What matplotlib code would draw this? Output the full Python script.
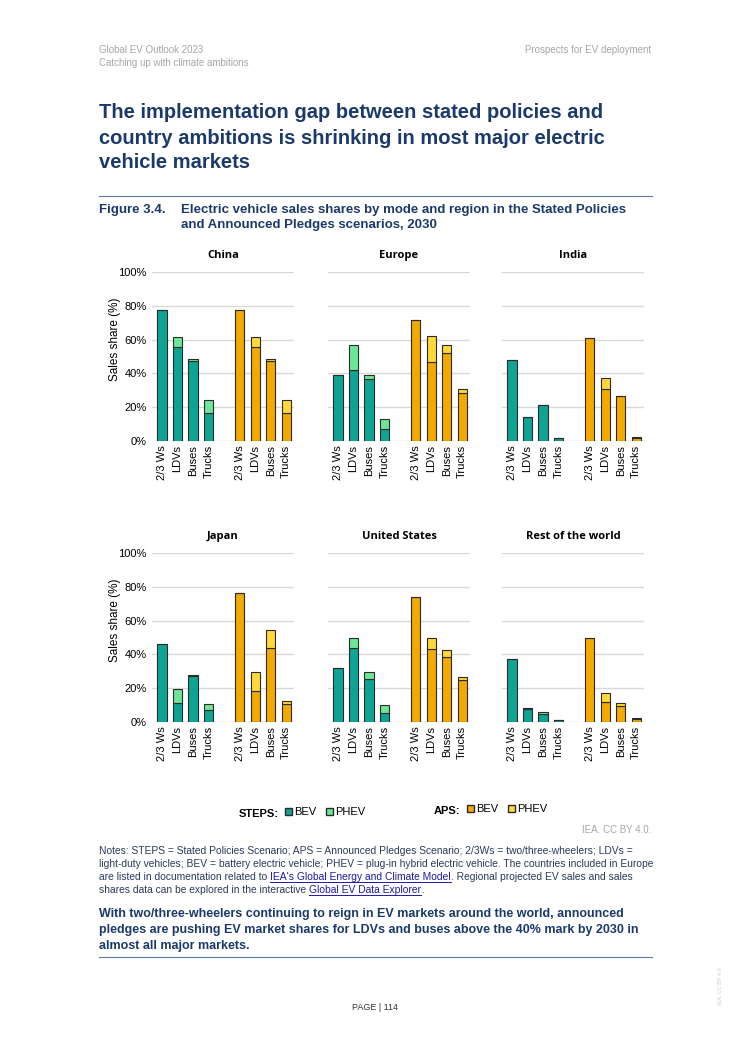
import matplotlib.pyplot as plt
from matplotlib.patches import Patch
from matplotlib.lines import Line2D

plt.rcParams['font.family'] = ['Liberation Sans', 'DejaVu Sans']

W, H = 750, 1061

# categorias y regiones
modos = ['2/3 Ws', 'LDVs', 'Buses', 'Trucks']
regiones = ['China', 'Europe', 'India', 'Japan', 'United States', 'Rest of the world']

# valores (%)
steps_bev = {
    'China': [77.7, 55.4, 47.1, 16.6],
    'Europe': [39.0, 42.0, 36.7, 6.9],
    'India': [48.0, 14.2, 21.1, 1.8],
    'Japan': [46.2, 11.1, 27.2, 7.3],
    'United States': [31.9, 43.8, 25.5, 5.3],
    'Rest of the world': [37.4, 7.5, 4.9, 1.0],
}
steps_phev = {
    'China': [0, 6.3, 1.6, 7.7],
    'Europe': [0, 14.6, 2.3, 5.9],
    'India': [0, 0, 0, 0],
    'Japan': [0, 8.7, 0.6, 3.6],
    'United States': [0, 5.9, 4.0, 4.8],
    'Rest of the world': [0, 1.0, 1.0, 0],
}
aps_bev = {
    'China': [77.7, 55.4, 47.1, 16.6],
    'Europe': [71.4, 46.7, 52.3, 28.4],
    'India': [60.9, 30.8, 26.7, 2.0],
    'Japan': [76.4, 18.1, 44.0, 10.5],
    'United States': [73.7, 43.4, 38.2, 25.1],
    'Rest of the world': [49.8, 12.0, 9.6, 1.8],
}
aps_phev = {
    'China': [0, 6.3, 1.6, 7.7],
    'Europe': [0, 15.4, 4.7, 2.4],
    'India': [0, 6.7, 0, 0.4],
    'Japan': [0, 11.3, 10.4, 1.8],
    'United States': [0, 6.3, 4.4, 1.8],
    'Rest of the world': [0, 5.3, 1.4, 0.6],
}

c_steps_bev = '#0fa394'
c_steps_phev = '#6ee69a'
c_aps_bev = '#f2a900'
c_aps_phev = '#ffd83a'
azul = '#1b3a6b'
gris = '#a6a6a6'


def px(x, y):
    return x / W, 1 - y / H


fig = plt.figure(figsize=(W / 100, H / 100), dpi=100)

# encabezado
fig.text(*px(99, 50), 'Global EV Outlook 2023', fontsize=7, color=gris, va='center')
fig.text(*px(99, 63), 'Catching up with climate ambitions', fontsize=7, color=gris, va='center')
fig.text(*px(651, 50), 'Prospects for EV deployment', fontsize=7, color=gris, va='center', ha='right')

titulo = ['The implementation gap between stated policies and',
          'country ambitions is shrinking in most major electric',
          'vehicle markets']
for i, t in enumerate(titulo):
    fig.text(*px(99, 113 + 25 * i), t, fontsize=14.5, weight='bold', color=azul, va='center')

fig.add_artist(Line2D([99 / W, 652 / W], [1 - 196 / H] * 2, color='#5b7bb0', lw=0.8))

fig.text(*px(99, 210), 'Figure 3.4.', fontsize=9.5, weight='bold', color=azul, va='center')
fig.text(*px(181, 210), 'Electric vehicle sales shares by mode and region in the Stated Policies',
         fontsize=9.5, weight='bold', color=azul, va='center')
fig.text(*px(181, 225), 'and Announced Pledges scenarios, 2030',
         fontsize=9.5, weight='bold', color=azul, va='center')

# paneles
lefts = [152, 328, 502]
bottoms = [441, 722]
ancho = 142
alto = 169
pos_steps = [0, 1, 2, 3]
pos_aps = [5, 6, 7, 8]

for k, reg in enumerate(regiones):
    fila, col = divmod(k, 3)
    l, b = lefts[col], bottoms[fila]
    ax = fig.add_axes([l / W, 1 - b / H, ancho / W, alto / H])
    ax.set_ylim(0, 100)
    ax.set_xlim(-0.65, 8.5)
    for s in ax.spines.values():
        s.set_visible(False)
    ax.set_yticks([0, 20, 40, 60, 80, 100])
    ax.grid(axis='y', color='#d9d9d9', lw=1)
    ax.set_axisbelow(True)
    ax.tick_params(length=0)

    ax.bar(pos_steps, steps_bev[reg], width=0.6, color=c_steps_bev, edgecolor='#2b2b2b', lw=0.8)
    ax.bar(pos_steps, steps_phev[reg], bottom=steps_bev[reg], width=0.6,
           color=c_steps_phev, edgecolor='#2b2b2b', lw=0.8)
    ax.bar(pos_aps, aps_bev[reg], width=0.6, color=c_aps_bev, edgecolor='#2b2b2b', lw=0.8)
    ax.bar(pos_aps, aps_phev[reg], bottom=aps_bev[reg], width=0.6,
           color=c_aps_phev, edgecolor='#2b2b2b', lw=0.8)

    ax.set_xticks(pos_steps + pos_aps)
    ax.set_xticklabels(modos + modos, rotation=90, fontsize=8)
    ax.tick_params(axis='x', pad=3)
    if col == 0:
        ax.set_yticklabels([f'{v}%' for v in range(0, 101, 20)], fontsize=8)
        ax.tick_params(axis='y', pad=4)
        ax.set_ylabel('Sales share (%)', fontsize=8.5)
        ax.yaxis.set_label_coords(-0.215, 0.6)
    else:
        ax.set_yticklabels([])
    ax.text(0.5, 1 + 14 / alto, reg, transform=ax.transAxes, ha='center', va='baseline',
            fontsize=8, weight='bold', family='Open Sans')

# leyendas
fig.text(*px(239, 814), 'STEPS:', fontsize=8, weight='bold', va='center')
fig.legend(handles=[Patch(facecolor=c_steps_bev, edgecolor='#2b2b2b'),
                    Patch(facecolor=c_steps_phev, edgecolor='#2b2b2b')],
           labels=['BEV', 'PHEV'], ncol=2, frameon=False, fontsize=8,
           handlelength=0.6, handleheight=0.6, handletextpad=0.2, columnspacing=0.9,
           loc='center left', bbox_to_anchor=px(281, 812), borderaxespad=0)
fig.text(*px(434, 811), 'APS:', fontsize=8, weight='bold', va='center')
fig.legend(handles=[Patch(facecolor=c_aps_bev, edgecolor='#2b2b2b'),
                    Patch(facecolor=c_aps_phev, edgecolor='#2b2b2b')],
           labels=['BEV', 'PHEV'], ncol=2, frameon=False, fontsize=8,
           handlelength=0.6, handleheight=0.6, handletextpad=0.2, columnspacing=0.9,
           loc='center left', bbox_to_anchor=px(463, 809), borderaxespad=0)

fig.text(*px(651, 830), 'IEA. CC BY 4.0.', fontsize=7, color=gris, ha='right', va='center')

# notas con enlaces
renderer = fig.canvas.get_renderer()
notas = [
    [('Notes: STEPS = Stated Policies Scenario; APS = Announced Pledges Scenario; 2/3Ws = two/three-wheelers; LDVs =', False)],
    [('light-duty vehicles; BEV = battery electric vehicle; PHEV = plug-in hybrid electric vehicle. The countries included in Europe', False)],
    [('are listed in documentation related to ', False), ("IEA's Global Energy and Climate Model", True),
     ('. Regional projected EV sales and sales', False)],
    [('shares data can be explored in the interactive ', False), ('Global EV Data Explorer', True), ('.', False)],
]
for i, linea in enumerate(notas):
    x = 99
    y = 851 + 13 * i
    for txt, enlace in linea:
        t = fig.text(*px(x, y), txt, fontsize=7.4, color='#1a1aa6' if enlace else '#2a3b5c', va='center')
        bb = t.get_window_extent(renderer)
        if enlace:
            fig.add_artist(Line2D([bb.x0 / W, bb.x1 / W], [1 - (y + 5) / H] * 2, color='#1a1aa6', lw=0.7))
        x += bb.width

final = ['With two/three-wheelers continuing to reign in EV markets around the world, announced',
         'pledges are pushing EV market shares for LDVs and buses above the 40% mark by 2030 in',
         'almost all major markets.']
for i, t in enumerate(final):
    fig.text(*px(99, 914 + 16 * i), t, fontsize=9.0, weight='bold', color=azul, va='center')

fig.add_artist(Line2D([99 / W, 652 / W], [1 - 957 / H] * 2, color='#5b7bb0', lw=0.8))

fig.text(*px(375, 1008), 'PAGE | 114', fontsize=6.5, color='#333333', ha='center', va='center')
fig.text(*px(721, 985), 'IEA. CC BY 4.0.', fontsize=4, color='#cccccc', rotation=90,
         ha='center', va='center')

plt.savefig('out.png', dpi=100)
